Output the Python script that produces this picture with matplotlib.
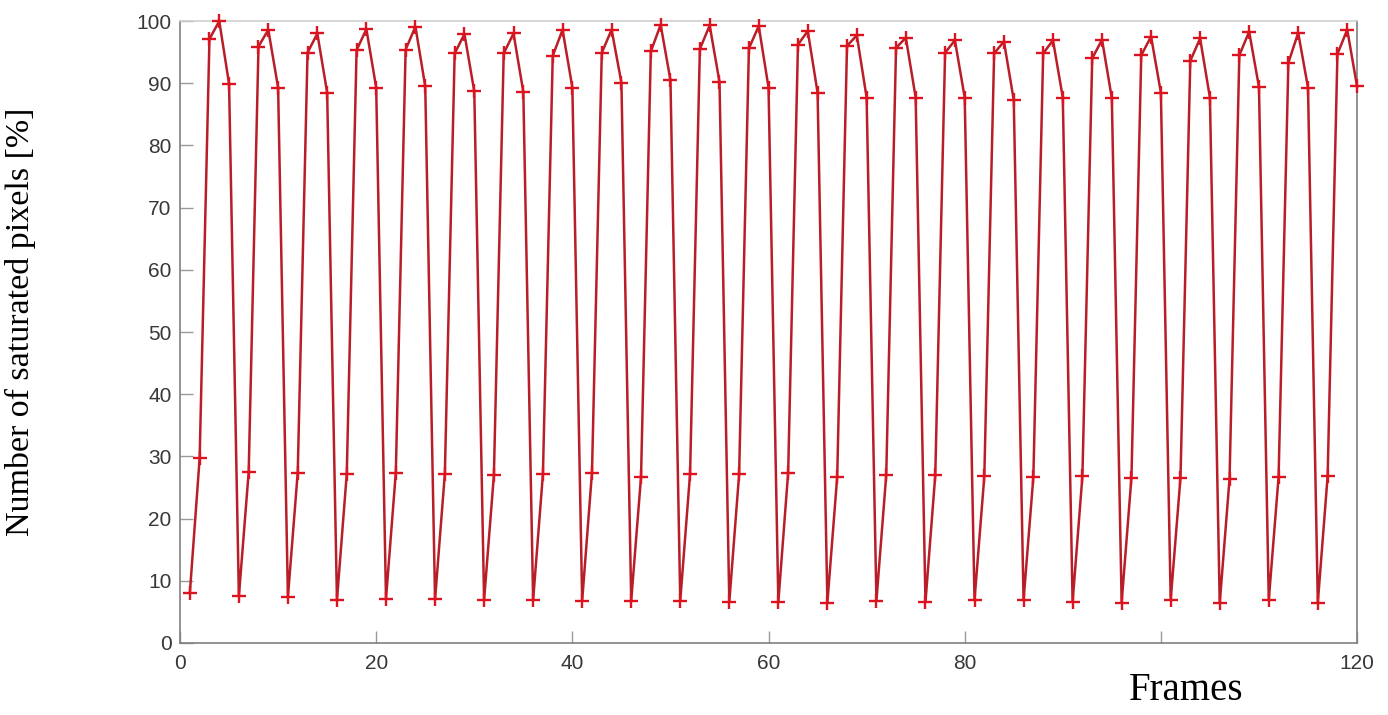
"""
Saturated pixels per frame.
"""

import matplotlib
matplotlib.use('Agg')
import matplotlib.pyplot as plt

# frame numbers
frames = list(range(1, 121))

# percent of saturated pixels (5 frames per row)
saturated = [
    8.0, 29.7, 97.1, 100.0, 89.9,
    7.5, 27.5, 95.9, 98.6, 89.3,
    7.4, 27.4, 94.9, 98.0, 88.5,
    6.9, 27.2, 95.3, 98.7, 89.3,
    7.1, 27.4, 95.4, 99.1, 89.5,
    7.0, 27.2, 94.8, 97.9, 88.7,
    6.9, 27.0, 94.8, 98.0, 88.6,
    6.9, 27.2, 94.4, 98.6, 89.3,
    6.8, 27.4, 94.9, 98.6, 90.1,
    6.8, 26.7, 95.1, 99.4, 90.5,
    6.8, 27.2, 95.5, 99.3, 90.2,
    6.6, 27.1, 95.6, 99.2, 89.3,
    6.6, 27.4, 96.2, 98.4, 88.5,
    6.5, 26.7, 96.0, 97.7, 87.7,
    6.8, 27.0, 95.7, 97.3, 87.7,
    6.6, 27.0, 94.9, 96.9, 87.7,
    6.9, 26.8, 94.8, 96.7, 87.3,
    6.9, 26.7, 94.8, 96.9, 87.7,
    6.6, 26.8, 94.0, 97.0, 87.6,
    6.5, 26.6, 94.5, 97.5, 88.5,
    6.9, 26.6, 93.6, 97.2, 87.7,
    6.4, 26.4, 94.5, 98.3, 89.4,
    6.9, 26.7, 93.3, 98.1, 89.3,
    6.5, 26.8, 94.7, 98.6, 89.5,
]

xticks = [0, 20, 40, 60, 80, 100, 120]
xtick_labels = ['0', '20', '40', '60', '80', '', '120']   # 100 is hidden under the label
yticks = list(range(0, 101, 10))

fig = plt.figure(figsize=(13.88, 7.15), dpi=100)
ax = fig.add_axes([0.1297, 0.1007, 0.848, 0.8699])

ax.plot(frames, saturated, color='#b81e28', lw=1.8,
        marker='+', markersize=10, markeredgewidth=1.7,
        markeredgecolor='#dc1420', clip_on=False, zorder=3)

ax.set_xlim(0, 120)
ax.set_ylim(0, 100)
ax.set_xticks(xticks)
ax.set_xticklabels(xtick_labels)
ax.set_yticks(yticks)

ax.tick_params(direction='in', length=9, width=1, color='#9a9a9a',
               labelcolor='#383838', labelsize=15)
ax.tick_params(axis='x', pad=8)
ax.tick_params(axis='y', pad=6)
for lbl in ax.get_xticklabels() + ax.get_yticklabels():
    lbl.set_family('Liberation Sans')

for side in ['left', 'bottom', 'right']:
    ax.spines[side].set_color('#808080')
    ax.spines[side].set_linewidth(1.2)
ax.spines['top'].set_color('#d0d0d0')
ax.spines['top'].set_linewidth(1.2)

fig.text(0.0144, 0.5503, 'Number of saturated pixels [%]', rotation=90,
         ha='center', va='center', family='Liberation Serif', fontsize=24.5)
fig.text(0.8545, 0.021, 'Frames', ha='center', va='baseline',
         family='Liberation Serif', fontsize=28)

fig.savefig('out.png', dpi=100)
